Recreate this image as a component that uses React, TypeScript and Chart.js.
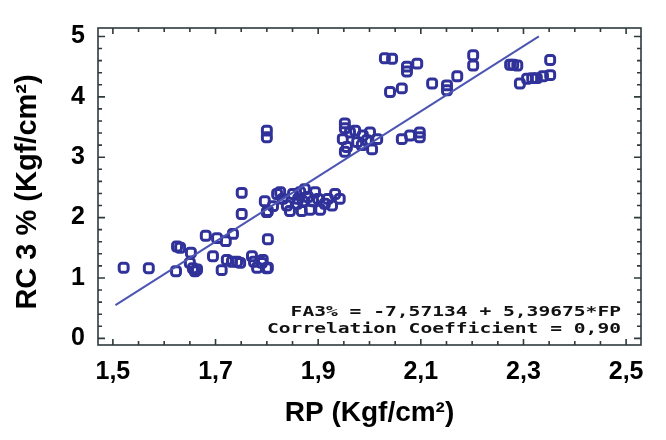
import React, { useEffect, useRef } from "react";
import { Chart, registerables } from "chart.js";
Chart.register(...registerables);

// RP (Kgf/cm²) values
const rpValues = [
  1.521, 1.570, 1.623, 1.625, 1.631, 1.652, 1.650, 1.656, 1.660, 1.664,
  1.681, 1.695, 1.703, 1.712, 1.720, 1.722, 1.732, 1.742, 1.748, 1.734,
  1.751, 1.751, 1.771, 1.775, 1.781, 1.790, 1.792, 1.800, 1.802, 1.802,
  1.800,
  1.796, 1.802, 1.812, 1.820, 1.826, 1.831, 1.839, 1.845, 1.851, 1.859,
  1.861, 1.865, 1.868, 1.870, 1.874, 1.880, 1.884, 1.890, 1.894, 1.900,
  1.904, 1.913, 1.919, 1.927, 1.933, 1.942,
  1.800, 1.800,
  1.952, 1.952, 1.962, 1.972, 1.948, 1.956, 1.952, 1.976, 1.987, 1.985,
  2.001, 2.005, 2.015, 1.995,
  2.063, 2.079, 2.098, 2.098,
  2.030, 2.044, 2.073, 2.073, 2.093, 2.040, 2.063, 2.122, 2.151, 2.151,
  2.171, 2.202, 2.202, 2.274, 2.280, 2.288, 2.293, 2.307, 2.317, 2.326,
  2.338, 2.352, 2.352,
];
// RC 3 % (Kgf/cm²) values
const rcValues = [
  1.17, 1.16, 1.11, 1.52, 1.50, 1.42, 1.25, 1.16, 1.11, 1.14,
  1.70, 1.36, 1.66, 1.13, 1.61, 1.30, 1.27, 1.27, 1.25, 1.73,
  2.41, 2.06, 1.36, 1.27, 1.17, 1.25, 1.30, 1.16, 1.17, 1.64,
  2.09,
  2.27, 2.11, 2.19, 2.39, 2.42, 2.31, 2.20, 2.11, 2.39, 2.23,
  2.31, 2.42, 2.11, 2.27, 2.47, 2.34, 2.13, 2.27, 2.42, 2.31,
  2.13, 2.23, 2.31, 2.20, 2.39, 2.31,
  3.44, 3.33,
  3.56, 3.48, 3.41, 3.44, 3.30, 3.17, 3.09, 3.25, 3.36, 3.20,
  3.41, 3.13, 3.30, 3.28,
  3.30, 3.36, 3.41, 3.33,
  4.64, 4.63, 4.50, 4.42, 4.55, 4.08, 4.14, 4.22, 4.19, 4.11,
  4.34, 4.69, 4.52, 4.53, 4.53, 4.52, 4.22, 4.30, 4.31, 4.31,
  4.34, 4.36, 4.61,
];
// fitted line end points
const fitRp = [1.505, 2.33];
const fitRc = [0.55, 5.0];

const xTickValues = [1.5, 1.7, 1.9, 2.1, 2.3, 2.5];
const yTickValues = [0, 1, 2, 3, 4, 5];
const xTitle = "RP (Kgf/cm²)";
const yTitle = "RC 3 % (Kgf/cm²)";
const equationText = "FA3% = -7,57134 + 5,39675*FP";
const correlationText = "Correlation Coefficient = 0,90";

const POINT_COLOR = "#30329a";
const LINE_COLOR = "#4d55b3";
const FRAME_COLOR = "#2e3a3c";
const FONT = "'Liberation Sans', Arial, sans-serif";

const framePlugin = {
  id: "frameTicks",
  afterDraw(chart: any) {
    const { ctx, chartArea: a, scales } = chart;
    const xs = scales.x;
    const ys = scales.y;
    ctx.save();
    ctx.strokeStyle = FRAME_COLOR;
    ctx.lineWidth = 1.6;
    ctx.strokeRect(a.left, a.top, a.right - a.left, a.bottom - a.top);
    ctx.lineWidth = 1.6;
    ctx.beginPath();
    for (let i = 0; i <= 20; i++) {
      const px = xs.getPixelForValue(1.5 + i * 0.05);
      const len = i % 4 === 0 ? 6 : 4;
      ctx.moveTo(px, a.bottom);
      ctx.lineTo(px, a.bottom - len);
      ctx.moveTo(px, a.top);
      ctx.lineTo(px, a.top + len);
    }
    for (let i = 0; i <= 25; i++) {
      const py = ys.getPixelForValue(i * 0.2);
      const len = i % 5 === 0 ? 7 : 4;
      ctx.moveTo(a.left, py);
      ctx.lineTo(a.left + len, py);
      ctx.moveTo(a.right, py);
      ctx.lineTo(a.right - len, py);
    }
    ctx.stroke();

    // regression annotation
    ctx.fillStyle = "#111";
    ctx.font = "bold 14px 'DejaVu Sans Mono', monospace";
    ctx.textAlign = "right";
    ctx.textBaseline = "middle";
    const sx = 1.4;
    ctx.save();
    ctx.scale(sx, 1);
    ctx.fillText(equationText, (a.right - 20) / sx, a.bottom - 33);
    ctx.fillText(correlationText, (a.right - 20) / sx, a.bottom - 16);
    ctx.restore();

    // axis titles
    ctx.fillStyle = "#000";
    ctx.textAlign = "center";
    ctx.font = `bold 28px ${FONT}`;
    ctx.fillText(xTitle, (a.left + a.right) / 2, 413);
    ctx.save();
    ctx.translate(28, 192);
    ctx.rotate(-Math.PI / 2);
    ctx.font = `bold 29px ${FONT}`;
    ctx.fillText(yTitle, 0, 0);
    ctx.restore();
    ctx.restore();
  },
};

export default function App() {
  const ref = useRef<HTMLCanvasElement>(null);
  useEffect(() => {
    document.body.style.margin = "0";
    const points = rpValues.map((x, i) => ({ x, y: rcValues[i] }));
    const fit = fitRp.map((x, i) => ({ x, y: fitRc[i] }));
    const chart = new Chart(ref.current!, {
      type: "scatter",
      data: {
        datasets: [
          {
            type: "line",
            data: fit,
            borderColor: LINE_COLOR,
            borderWidth: 2,
            pointRadius: 0,
            fill: false,
          } as any,
          {
            data: points,
            pointStyle: "rectRounded",
            pointRadius: 5.2,
            borderWidth: 3,
            borderColor: POINT_COLOR,
            backgroundColor: "rgba(255,255,255,0)",
          },
        ],
      },
      options: {
        responsive: false,
        animation: false,
        layout: { padding: { top: 9, right: 25, left: 0, bottom: 0 } },
        plugins: { legend: { display: false }, tooltip: { enabled: false } },
        scales: {
          x: {
            type: "linear",
            min: 1.471,
            max: 2.529,
            grid: { display: false, drawTicks: false },
            border: { display: false },
            afterBuildTicks: (s: any) => {
              s.ticks = xTickValues.map((v) => ({ value: v }));
            },
            afterFit: (s: any) => {
              s.height = 95;
            },
            ticks: {
              padding: 12,
              color: "#000",
              font: { family: FONT, size: 25, weight: "bold" },
              callback: (v: any) => Number(v).toFixed(1).replace(".", ","),
              maxRotation: 0,
              autoSkip: false,
            },
          },
          y: {
            type: "linear",
            min: -0.11,
            max: 5.14,
            grid: { display: false, drawTicks: false },
            border: { display: false },
            afterBuildTicks: (s: any) => {
              s.ticks = yTickValues.map((v) => ({ value: v }));
            },
            afterFit: (s: any) => {
              s.width = 98;
            },
            ticks: {
              padding: 13,
              color: "#000",
              font: { family: FONT, size: 25, weight: "bold" },
              callback: (v: any) => String(v),
              autoSkip: false,
            },
          },
        },
      },
      plugins: [framePlugin],
    });
    return () => chart.destroy();
  }, []);
  return <canvas ref={ref} width={666} height={440} />;
}
